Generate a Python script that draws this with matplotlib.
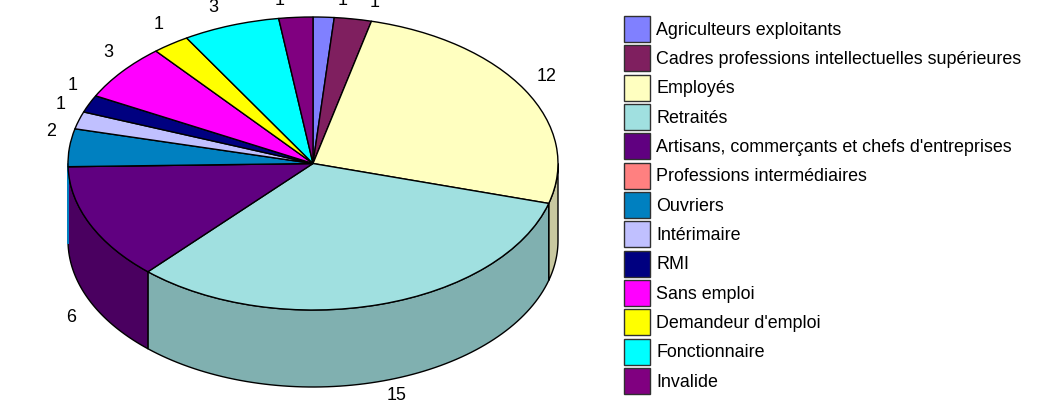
import numpy as np
import matplotlib
matplotlib.use("Agg")
import matplotlib.pyplot as plt
from matplotlib.patches import Patch

plt.rcParams['font.family'] = ['Liberation Sans', 'DejaVu Sans']

categories = ["Agriculteurs exploitants",
              "Cadres professions intellectuelles supérieures",
              "Employés", "Retraités",
              "Artisans, commerçants et chefs d'entreprises",
              "Professions intermédiaires", "Ouvriers", "Intérimaire", "RMI",
              "Sans emploi", "Demandeur d'emploi", "Fonctionnaire", "Invalide"]
values = [0.65, 1.15, 12.0, 15.2, 6.05, 0.0, 1.95, 0.9, 0.9, 2.95, 1.15, 3.0, 1.05]
value_labels = ["1", "1", "12", "15", "6", "", "2", "1", "1", "3", "1", "3", "1"]
colors = ["#8080ff", "#7f1f5f", "#ffffc0", "#a0e0e0", "#600080", "#ff8080",
          "#0080c0", "#c0c0ff", "#000080", "#ff00ff", "#ffff00", "#00ffff", "#800080"]
wall_colors = ["#6666cc", "#661a4c", "#c8c8a0", "#80b0b0", "#4a0060", "#cc6666",
               "#006699", "#9999cc", "#000066", "#cc00cc", "#cccc00", "#00cccc", "#660066"]
label_nudges_px = [(18, 2), (18, 2), (1, 6), (10, 0), (3, -10), (0, 0), (6, 15),
                   (5, 11), (6, 12), (5, 10), (2, 8), (-10, 4), (-14, 2)]

W, H = 1040, 401
fig = plt.figure(figsize=(W / 100, H / 100), dpi=100)

# Ellipse of the top face, in pixels
left, right, top, bottom = 68, 558, 17, 310
depth = 77 / ((bottom - top) / 2)
ax = fig.add_axes([left / W, 1 - bottom / H, (right - left) / W, (bottom - top) / H])

ax.pie(values, colors=colors, startangle=90, counterclock=False, radius=1,
       wedgeprops=dict(edgecolor='black', linewidth=1.0))
ax.set_aspect('auto')
ax.set_xlim(-1, 1)
ax.set_ylim(-1, 1)
ax.axis('off')
for p in ax.patches:
    p.set_clip_on(False)

# Side wall: only the front half (90 to 270 degrees clockwise from the top)
edges = np.cumsum([0] + values) / np.sum(values) * 360
for i in range(len(values)):
    a, b = max(edges[i], 90), min(edges[i + 1], 270)
    if b <= a:
        continue
    t = np.radians(np.linspace(a, b, 80))
    x, y = np.sin(t), np.cos(t)
    sliver = (b - a) < 4
    ax.fill(np.r_[x, x[::-1]], np.r_[y, y[::-1] - depth],
            facecolor=colors[i] if sliver else wall_colors[i],
            edgecolor=colors[i] if sliver else 'black', linewidth=1.0, clip_on=False,
            zorder=0.6 if sliver else 0.5)

# Value labels around the pie
fs = 12.9
for i, lab in enumerate(value_labels):
    if not lab:
        continue
    mid = np.radians((edges[i] + edges[i + 1]) / 2)
    x, y = 1.1 * np.sin(mid), 1.1 * np.cos(mid)
    if np.cos(mid) < 0:
        y -= depth
    ax.annotate(lab, (x, y), xytext=label_nudges_px[i], textcoords='offset pixels',
                ha='center', va='center', fontsize=fs, color='black',
                annotation_clip=False)

handles = [Patch(facecolor=c, edgecolor='#303030', linewidth=1.0) for c in colors]
fs_px = fs * 100 / 72
fig.legend(handles, categories, loc='upper left', bbox_to_anchor=(624 / W, 1 - 16 / H),
           frameon=False, fontsize=fs, borderpad=0, borderaxespad=0,
           handlelength=26 / fs_px, handleheight=(26 / fs_px - 0.245) / 0.65,
           handletextpad=6 / fs_px, labelspacing=3.33 / fs_px)

fig.savefig("out.png", dpi=100)
